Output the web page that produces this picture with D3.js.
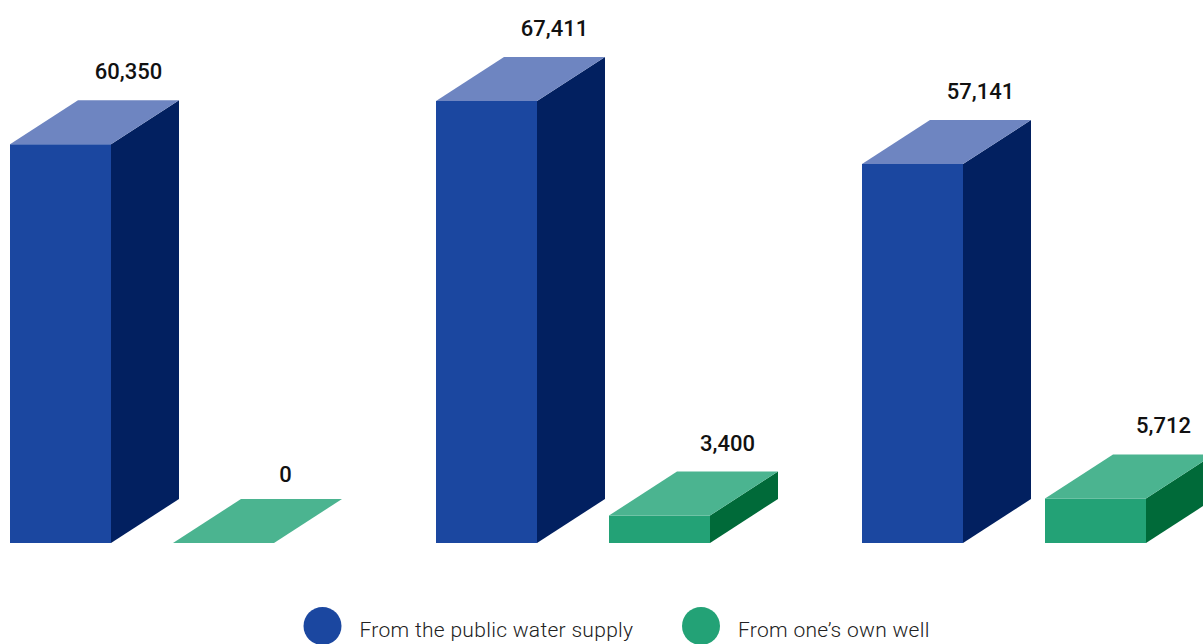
<!DOCTYPE html>
<html>
<head>
<meta charset="utf-8">
<script src="https://cdn.jsdelivr.net/npm/d3@7"></script>
<style>
  html, body { margin: 0; padding: 0; background: #ffffff; }
  svg { display: block; }
</style>
</head>
<body>
<svg id="chart" width="1203" height="644"></svg>
<script>
// ---- data ----
const categories = ["Group 1", "Group 2", "Group 3"];
const seriesNames = ["From the public water supply", "From one\u2019s own well"];
const publicSupply = [60350, 67411, 57141];
const ownWell = [0, 3400, 5712];

// ---- layout ----
const W = 1203, H = 644;
const baseY = 543;
const barW = 101, depthX = 68, depthY = 44;

const colors = [
  { front: "#1b47a0", top: "#6e85c1", side: "#022060" },
  { front: "#23a276", top: "#4bb490", side: "#006a39" }
];

const svg = d3.select("#chart");

const xSeries = [
  d3.scalePoint().domain(categories).range([10, 862]),
  d3.scalePoint().domain(categories).range([173, 1045])
];

const y = d3.scalePow().exponent(0.93)
  .domain([0, d3.max(publicSupply)])
  .range([baseY, 101]);

const fmt = d3.format(",");

const series = [publicSupply, ownWell];

series.forEach((vals, si) => {
  const c = colors[si];
  const g = svg.append("g");
  categories.forEach((cat, i) => {
    const v = vals[i];
    const x = xSeries[si](cat);
    const yt = y(v);
    const h = baseY - yt;
    if (h > 0) {
      g.append("rect")
        .attr("x", x).attr("y", yt)
        .attr("width", barW).attr("height", h)
        .attr("fill", c.front);
      g.append("path")
        .attr("d", d3.line()([
          [x + barW, yt], [x + barW + depthX, yt - depthY],
          [x + barW + depthX, baseY - depthY], [x + barW, baseY]
        ]) + "Z")
        .attr("fill", c.side);
    }
    g.append("path")
      .attr("d", d3.line()([
        [x, yt], [x + depthX, yt - depthY],
        [x + barW + depthX, yt - depthY], [x + barW, yt]
      ]) + "Z")
      .attr("fill", c.top);
    g.append("text")
      .attr("x", x + depthX + barW / 2 - (v === 0 ? 6 : 0))
      .attr("y", yt - depthY - (v === 0 ? 17 : 21))
      .attr("text-anchor", "middle")
      .attr("font-family", "Roboto, 'Open Sans', sans-serif")
      .attr("font-weight", 500)
      .attr("font-size", 22)
      .attr("fill", "#111")
      .text(fmt(v));
  });
});

// ---- legend ----
const legendX = [322.5, 701];
const legend = svg.append("g");
seriesNames.forEach((name, i) => {
  legend.append("circle")
    .attr("cx", legendX[i]).attr("cy", 626).attr("r", 19)
    .attr("fill", colors[i].front);
  legend.append("text")
    .attr("x", legendX[i] + 37)
    .attr("y", 637)
    .attr("font-family", "Roboto, 'Open Sans', sans-serif")
    .attr("font-weight", 300)
    .attr("font-size", 21)
    .attr("letter-spacing", 0.3)
    .attr("fill", "#222")
    .text(name);
});
</script>
</body>
</html>
